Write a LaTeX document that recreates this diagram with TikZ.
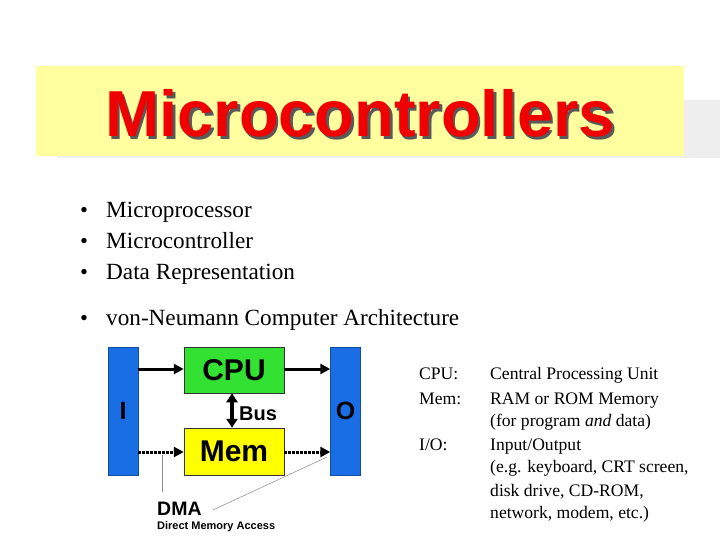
\documentclass[tikz,border=0pt]{standalone}
\usepackage{fontspec}
\setmainfont{Liberation Serif}
\setsansfont{Liberation Sans}
\usetikzlibrary{arrows.meta,calc}
\definecolor{titleyellow}{RGB}{255,255,160}
\definecolor{shadowgrey}{RGB}{238,238,238}
\definecolor{titlered}{RGB}{240,0,0}
\definecolor{barblue}{RGB}{25,110,230}
\definecolor{cpugreen}{RGB}{50,225,50}
\definecolor{memyellow}{RGB}{255,255,0}
\tikzset{
  bullettext/.style={anchor=base west,font=\fontsize{23.2}{26}\selectfont,inner sep=0},
  deftext/.style={anchor=base west,font=\fontsize{17.6}{20}\selectfont,inner sep=0},
  iobar/.style={fill=barblue,draw=barblue!70!black,line width=0.4,minimum width=30,minimum height=128,inner sep=0,font=\sffamily\bfseries\fontsize{25}{28}\selectfont},
  unitbox/.style={draw=black!80,line width=0.5,minimum width=100,minimum height=46,inner sep=0,font=\sffamily\bfseries\fontsize{30}{32}\selectfont},
  flow/.style={line width=3,-{Triangle[length=10,width=10]}},
  dmaflow/.style={line width=3,dash pattern=on 2.5 off 1.5,-{Triangle[length=10,width=10]}},
  thinline/.style={draw=black!45,line width=0.5}
}
\begin{document}
\begin{tikzpicture}[x=1pt,y=-1pt]
\useasboundingbox (0,0) rectangle (720,540);
\fill[white] (0,0) rectangle (720,540);
% title band
\fill[shadowgrey] (57,100) rectangle (720,158);
\fill[titleyellow] (36,66) rectangle (684,156);
\node[anchor=base,inner sep=0,font=\sffamily\bfseries\fontsize{65}{70}\selectfont] (title) at (360,137)
  {\makebox[0pt][l]{\hspace{2.5pt}\raisebox{-2.5pt}{\textcolor{black!65}{Microcontrollers}}}\textcolor{titlered}{Microcontrollers}};
% bullets
\foreach \yy/\txt/\nm in {218/Microprocessor/b1,248/Microcontroller/b2,279/Data Representation/b3,325/von-Neumann Computer Architecture/b4}{
  \node[bullettext] (\nm) at (106,\yy) {\txt};
  \node[anchor=base,inner sep=0,font=\fontsize{22.5}{26}\selectfont] at (84,\yy) {\textbullet};
}
% diagram
\node[iobar] (ibar) at (123,411) {I};
\node[iobar] (obar) at (345.5,411) {O};
\node[unitbox,fill=cpugreen] (cpu) at (234,370) {CPU};
\node[unitbox,fill=memyellow,minimum height=47] (mem) at (234,451.5) {Mem};
\draw[flow] (ibar.east |- 0,369) -- (cpu.west |- 0,369);
\draw[flow] (cpu.east |- 0,369) -- (obar.west |- 0,369);
\draw[line width=3.5,{Triangle[length=9,width=11]}-{Triangle[length=9,width=11]}] ($(cpu.south)+(-2,0)$) -- ($(mem.north)+(-2,0)$);
\node[anchor=base west,inner sep=0,font=\sffamily\bfseries\fontsize{20}{22}\selectfont] (bus) at (239,420) {Bus};
\draw[dmaflow] (ibar.east |- 0,452) -- (mem.west |- 0,452);
\draw[dmaflow] (mem.east |- 0,452) -- (obar.west |- 0,452);
% DMA label
\node[anchor=base west,inner sep=0,font=\sffamily\bfseries\fontsize{19.5}{22}\selectfont] (dma) at (157,515) {DMA};
\node[anchor=base west,inner sep=0,font=\sffamily\bfseries\fontsize{11}{12}\selectfont] (dmafull) at (157,529) {Direct Memory Access};
\coordinate (d1) at (162,455);
\coordinate (d1e) at (162,492);
\coordinate (d2) at (327,457);
\coordinate (d2e) at (213,510);
\draw[thinline] (d1) -- (d1e);
\draw[thinline] (d2) -- (d2e);
% definitions
\node[deftext] (k1) at (419,379) {CPU:};
\node[deftext] (v1) at (490,379) {Central Processing Unit};
\node[deftext] (k2) at (419,404) {Mem:};
\node[deftext] (v2) at (490,404) {RAM or ROM Memory};
\node[deftext] (v2b) at (490,426) {(for program \textit{and} data)};
\node[deftext] (k3) at (419,450) {I/O:};
\node[deftext] (v3) at (490,450) {Input/Output};
\node[deftext] (v3b) at (490,472) {(e.g. keyboard, CRT screen,};
\node[deftext] (v3c) at (490,496) {disk drive, CD-ROM,};
\node[deftext] (v3d) at (490,518) {network, modem, etc.)};
\end{tikzpicture}
\end{document}
